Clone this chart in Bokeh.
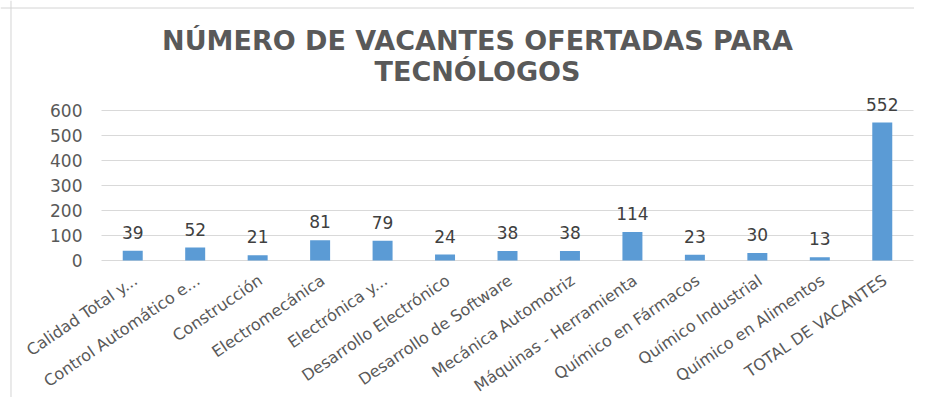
from bokeh.plotting import figure
from bokeh.models import ColumnDataSource, LabelSet, Label, Range1d, Span
from bokeh.core.properties import value
from bokeh.embed import file_html
from bokeh.resources import INLINE

categories = [
    "Calidad Total y...",
    "Control Automático e...",
    "Construcción",
    "Electromecánica",
    "Electrónica y...",
    "Desarrollo Electrónico",
    "Desarrollo de Software",
    "Mecánica Automotriz",
    "Máquinas - Herramienta",
    "Químico en Fármacos",
    "Químico Industrial",
    "Químico en Alimentos",
    "TOTAL DE VACANTES",
]
vacantes = [39, 52, 21, 81, 79, 24, 38, 38, 114, 23, 30, 13, 552]
y_ticks = [0, 100, 200, 300, 400, 500, 600]
title_lines = ["NÚMERO DE VACANTES OFERTADAS PARA", "TECNÓLOGOS"]

n = len(categories)
xpos = [i + 0.5 for i in range(n)]  # category slots on a numeric scale
src = ColumnDataSource(dict(x=xpos, cat=categories, val=vacantes,
                            zero=[0] * n,
                            lab=[str(v) for v in vacantes]))
grid_src = ColumnDataSource(dict(y=y_ticks, x0=[0] * len(y_ticks), x1=[n] * len(y_ticks),
                                 lab=[str(t) for t in y_ticks]))

# The frame covers the whole canvas; ranges are widened so that the plotting
# area (category slots 0..13, values 0..600) sits where the reference has it.
p = figure(
    width=914, height=397,
    x_range=Range1d(-1.617, 13.016),
    y_range=Range1d(-548, 1040),
    output_backend="svg", toolbar_location=None,
    min_border_left=0, min_border_right=0, min_border_top=0, min_border_bottom=0,
)
p.outline_line_color = None
p.background_fill_color = "white"
p.border_fill_color = "white"
p.xaxis.visible = False
p.yaxis.visible = False
p.xgrid.visible = False
p.ygrid.visible = False

# chart border (top and left edges visible in the reference)
p.add_layout(Span(location=1010, dimension="width", line_color="#d4d4d4", line_width=1))
p.add_layout(Span(location=-1.449, dimension="height", line_color="#d4d4d4", line_width=1))

# horizontal gridlines
p.segment(x0="x0", x1="x1", y0="y", y1="y", source=grid_src, line_color="#d9d9d9", line_width=1)

# y tick labels
p.text(x="x0", y="y", text="lab", source=grid_src, x_offset=-19,
       text_align="right", text_baseline="middle",
       text_font=value("DejaVu Sans"), text_font_size="17px", text_color="#595959")

# bars
p.vbar(x="x", top="val", width=0.32, source=src, color="#5b9bd5", line_color=None)

# value labels
p.add_layout(LabelSet(x="x", y="val", text="lab", source=src, y_offset=12,
                      text_align="center", text_baseline="alphabetic",
                      text_font=value("DejaVu Sans"), text_font_size="17px",
                      text_color="#404040"))

# category labels (rotated)
p.text(x="x", y="zero", text="cat", source=src, angle=0.6,
       x_offset=3, y_offset=18, text_align="right", text_baseline="middle",
       text_font=value("DejaVu Sans"), text_font_size="16px", text_color="#595959")

# Title
for txt, yy in zip(title_lines, [880, 758]):
    p.add_layout(Label(x=6.02, y=yy, text=txt, text_align="center", text_baseline="middle",
                       text_font="DejaVu Sans", text_font_size="27px",
                       text_font_style="bold", text_color="#595959"))

open("out.html", "w").write(file_html(p, INLINE))
